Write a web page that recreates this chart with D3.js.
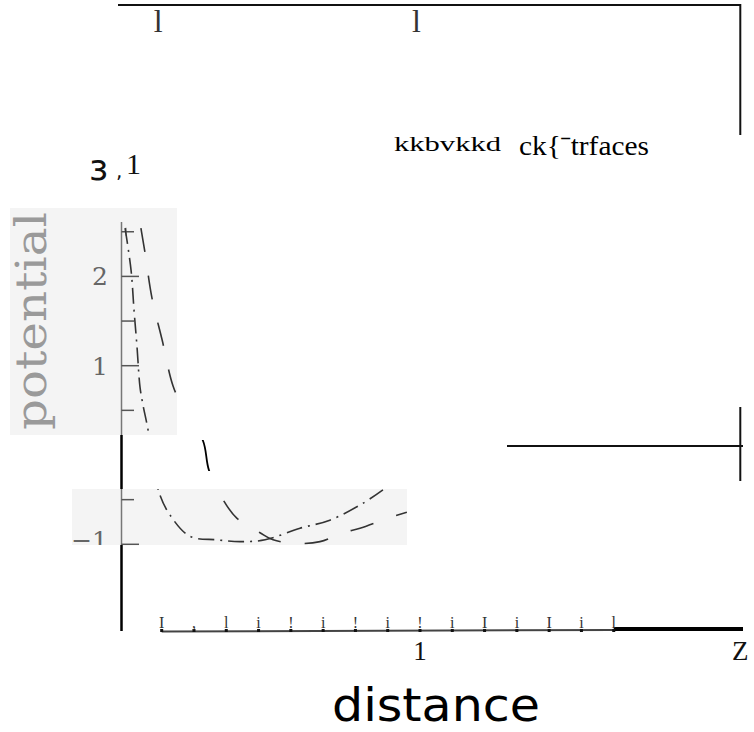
<!DOCTYPE html>
<html>
<head>
<meta charset="utf-8">
<script src="https://cdn.jsdelivr.net/npm/d3@7"></script>
<style>
  body { margin: 0; background: #fff; }
  svg { display: block; }
</style>
</head>
<body>
<script>
// curve values
var distDashDot = [0.012, 0.032, 0.042, 0.052, 0.062, 0.072, 0.089, 0.109, 0.129, 0.162, 0.229, 0.320, 0.397, 0.481, 0.598, 0.698, 0.809, 0.876];
var potDashDot  = [2.54, 2.07, 1.62, 1.21, 0.76, 0.56, 0.28, -0.17, -0.45, -0.67, -0.91, -0.95, -0.97, -0.95, -0.82, -0.73, -0.54, -0.39];

var distDashed = [0.065, 0.079, 0.102, 0.136, 0.173, 0.213, 0.273, 0.293, 0.340, 0.387, 0.464, 0.508, 0.588, 0.665, 0.742, 0.799, 0.889, 0.956];
var potDashed  = [2.54, 2.26, 1.76, 1.29, 0.77, 0.48, 0.16, -0.17, -0.50, -0.71, -0.87, -0.95, -0.99, -0.97, -0.87, -0.82, -0.71, -0.64];

// ticks and labels
var yTickVals   = [2.5, 2, 1.5, 1, 0.5, -0.5, -1];
var yLabelVals  = [2, 1, -1];
var yLabelTexts = ["2", "1", "\u22121"];

var xTickVals   = [0, 0.125, 0.25, 0.375, 0.5, 0.625, 0.75, 0.875, 1, 1.125, 1.25, 1.375, 1.5, 1.625, 1.75];
var xTickGlyphs = ["I", ",", "l", "i", "!", "i", "!", "i", "!", "i", "I", "i", "I", "i", "l"];
var xLabelVals  = [1, 2.24];
var xLabelTexts = ["1", "Z"];
var topTickVals = [0, 1];

var width = 754, height = 732;

var svg = d3.select("body").append("svg")
    .attr("width", width)
    .attr("height", height);

svg.append("rect").attr("width", width).attr("height", height).attr("fill", "#fff");

// scales
var x  = d3.scaleLinear().domain([0, 1]).range([121.5, 420]);   // curves
var xb = d3.scaleLinear().domain([0, 1]).range([161.7, 420]);   // bottom axis
var y  = d3.scaleLinear().domain([0, 1]).range([455, 365.7]);

var defs = svg.append("defs");
var patches = [
    {id: "p1", x: 10, y: 208, w: 167, h: 227},
    {id: "p2", x: 72, y: 489, w: 335, h: 56}
];
patches.forEach(function(p) {
    defs.append("clipPath").attr("id", "clip_" + p.id)
        .append("rect").attr("x", p.x).attr("y", p.y).attr("width", p.w).attr("height", p.h);
});
var gapClip = defs.append("clipPath").attr("id", "clip_gap");
gapClip.append("rect").attr("x", 195).attr("y", 440).attr("width", 20).attr("height", 31);

// grey scanned patches
svg.selectAll("rect.patch")
    .data(patches)
    .enter()
    .append("rect")
    .attr("class", "patch")
    .attr("x", function(p) { return p.x; })
    .attr("y", function(p) { return p.y; })
    .attr("width", function(p) { return p.w; })
    .attr("height", function(p) { return p.h; })
    .attr("fill", "#f4f4f4");

// frame pieces
svg.append("line").attr("x1", 118).attr("x2", xb(2.24)).attr("y1", 5).attr("y2", 5)
    .attr("stroke", "#111").attr("stroke-width", 2);
svg.append("line").attr("x1", xb(2.24)).attr("x2", xb(2.24)).attr("y1", 4).attr("y2", 135)
    .attr("stroke", "#111").attr("stroke-width", 2);
svg.append("line").attr("x1", 507).attr("x2", 743).attr("y1", 446).attr("y2", 446)
    .attr("stroke", "#111").attr("stroke-width", 2);
svg.append("line").attr("x1", xb(2.24)).attr("x2", xb(2.24)).attr("y1", 407).attr("y2", 481)
    .attr("stroke", "#111").attr("stroke-width", 2);

// top tick glyphs
svg.selectAll("text.toptick")
    .data(topTickVals)
    .enter()
    .append("text")
    .attr("class", "toptick")
    .attr("x", function(d) { return xb(d) - 8; })
    .attr("y", 32)
    .attr("font-family", "Liberation Serif")
    .attr("font-size", 32)
    .attr("fill", "#333")
    .text("l");

// header texts
svg.append("text")
    .attr("x", 394).attr("y", 151)
    .attr("font-family", "Liberation Serif").attr("font-size", 21)
    .attr("textLength", 107).attr("lengthAdjust", "spacingAndGlyphs")
    .text("kkbvkkd");
svg.append("text")
    .attr("x", 519).attr("y", 155)
    .attr("font-family", "Liberation Serif").attr("font-size", 27)
    .attr("textLength", 130).attr("lengthAdjust", "spacingAndGlyphs")
    .text("ck{\u02C9trfaces");

svg.append("text").attr("x", 89).attr("y", 180)
    .attr("font-family", "DejaVu Sans").attr("font-size", 36).attr("fill", "#111")
    .text("\u0437");
svg.append("text").attr("x", 116).attr("y", 178)
    .attr("font-family", "DejaVu Sans").attr("font-size", 20).attr("fill", "#111")
    .text(",");
svg.append("text").attr("x", 126).attr("y", 174)
    .attr("font-family", "Liberation Serif").attr("font-size", 30).attr("fill", "#111")
    .text("1");

// y axis: grey inside patches, black between
svg.append("line").attr("x1", 121.5).attr("x2", 121.5).attr("y1", 222).attr("y2", 435)
    .attr("stroke", "#777").attr("stroke-width", 1.5);
svg.append("line").attr("x1", 121.5).attr("x2", 121.5).attr("y1", 435).attr("y2", 489)
    .attr("stroke", "#000").attr("stroke-width", 2.5);
svg.append("line").attr("x1", 121.5).attr("x2", 121.5).attr("y1", 489).attr("y2", 545)
    .attr("stroke", "#777").attr("stroke-width", 1.5);
svg.append("line").attr("x1", 121.5).attr("x2", 121.5).attr("y1", 545).attr("y2", 631)
    .attr("stroke", "#000").attr("stroke-width", 2.5);

svg.selectAll("line.ytick")
    .data(yTickVals)
    .enter()
    .append("line")
    .attr("class", "ytick")
    .attr("x1", 121.5)
    .attr("x2", function(d) { return d % 1 === 0 ? 139 : 134; })
    .attr("y1", function(d) { return y(d); })
    .attr("y2", function(d) { return y(d); })
    .attr("stroke", "#555")
    .attr("stroke-width", 1.5);
// little cross on the top tick
svg.append("line").attr("x1", 126).attr("x2", 126)
    .attr("y1", y(2.5) - 4).attr("y2", y(2.5) + 4)
    .attr("stroke", "#666").attr("stroke-width", 1);

svg.selectAll("text.ylabel")
    .data(yLabelVals)
    .enter()
    .append("text")
    .attr("class", "ylabel")
    .attr("x", 108)
    .attr("y", function(d) { return y(d); })
    .attr("dy", function(d) { return d < 0 ? "0.2em" : "0.36em"; })
    .attr("text-anchor", "end")
    .attr("font-family", "DejaVu Serif")
    .attr("font-size", 25)
    .attr("fill", "#666")
    .attr("clip-path", function(d) { return d < 0 ? "url(#clip_p2)" : null; })
    .text(function(d, i) { return yLabelTexts[i]; });

// axis title, rotated
svg.append("text")
    .attr("transform", "translate(46,430) rotate(-90)")
    .attr("font-family", "DejaVu Serif")
    .attr("font-size", 42)
    .attr("fill", "#9a9a9a")
    .attr("textLength", 218).attr("lengthAdjust", "spacingAndGlyphs")
    .text("potential");

// curves
var line = d3.line()
    .x(function(d) { return x(d[0]); })
    .y(function(d) { return y(d[1]); })
    .curve(d3.curveCatmullRom);

var dashDot = d3.zip(distDashDot, potDashDot);
var dashed  = d3.zip(distDashed, potDashed);

["p1", "p2"].forEach(function(id) {
    var g = svg.append("g").attr("clip-path", "url(#clip_" + id + ")");
    g.append("path").datum(dashDot).attr("d", line)
        .attr("fill", "none").attr("stroke", "#333").attr("stroke-width", 1.6)
        .attr("stroke-dasharray", "16,6,2,6");
    g.append("path").datum(dashed).attr("d", line)
        .attr("fill", "none").attr("stroke", "#333").attr("stroke-width", 1.6)
        .attr("stroke-dasharray", "24,24");
});
svg.append("g").attr("clip-path", "url(#clip_gap)")
    .append("path").datum(dashed).attr("d", line)
    .attr("fill", "none").attr("stroke", "#000").attr("stroke-width", 1.8);

// bottom axis
svg.append("line").attr("x1", xb(0)).attr("x2", xb(1.75)).attr("y1", 631.5).attr("y2", 630)
    .attr("stroke", "#444").attr("stroke-width", 2);
svg.append("line").attr("x1", xb(1.75)).attr("x2", 743).attr("y1", 629).attr("y2", 629)
    .attr("stroke", "#000").attr("stroke-width", 4);

svg.selectAll("rect.xdot")
    .data(xTickVals)
    .enter()
    .append("rect")
    .attr("class", "xdot")
    .attr("x", function(d) { return xb(d) - 1.5; })
    .attr("y", 629)
    .attr("width", 3).attr("height", 3)
    .attr("fill", "#111");

svg.selectAll("text.xglyph")
    .data(xTickVals)
    .enter()
    .append("text")
    .attr("class", "xglyph")
    .attr("x", function(d) { return xb(d); })
    .attr("y", 628)
    .attr("text-anchor", "middle")
    .attr("font-family", "Liberation Serif")
    .attr("font-size", 16)
    .attr("fill", "#333")
    .text(function(d, i) { return xTickGlyphs[i]; });

svg.selectAll("text.xlabel")
    .data(xLabelVals)
    .enter()
    .append("text")
    .attr("class", "xlabel")
    .attr("x", function(d) { return xb(d); })
    .attr("y", 660)
    .attr("text-anchor", "middle")
    .attr("font-family", "Liberation Serif")
    .attr("font-size", 27)
    .attr("fill", "#111")
    .text(function(d, i) { return xLabelTexts[i]; });

svg.append("text")
    .attr("x", 332).attr("y", 721)
    .attr("font-family", "DejaVu Sans")
    .attr("font-size", 46)
    .attr("textLength", 208).attr("lengthAdjust", "spacingAndGlyphs")
    .text("distance");
</script>
</body>
</html>
